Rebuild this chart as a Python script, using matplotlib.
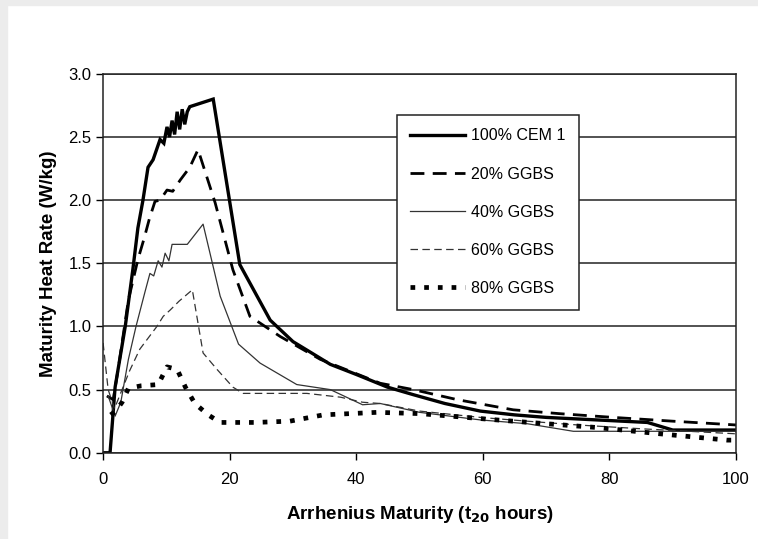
import matplotlib
matplotlib.use("Agg")
import matplotlib.pyplot as plt
from matplotlib.patches import Rectangle

plt.rcParams['font.family'] = ['Liberation Sans', 'DejaVu Sans']

# Arrhenius maturity (t20 hours) vs maturity heat rate (W/kg)
cem_x = [0, 1.1, 1.9, 3.5, 4.7, 5.5, 6.3, 7.1, 7.9, 9.0, 9.6, 10.1, 10.5, 10.9, 11.3,
         11.7, 12.1, 12.5, 12.9, 13.3, 13.7, 17.4, 21.6, 26.4, 30.0, 35.9, 40.0, 44.9,
         49.0, 54.0, 59.6, 65.0, 70.0, 78.0, 86.0, 90.0, 95.0, 100]
cem_y = [0, 0, 0.52, 1.0, 1.45, 1.78, 2.0, 2.26, 2.32, 2.48, 2.45, 2.58, 2.5, 2.63, 2.52,
         2.7, 2.56, 2.72, 2.6, 2.7, 2.74, 2.80, 1.49, 1.05, 0.88, 0.70, 0.62, 0.52,
         0.46, 0.39, 0.33, 0.30, 0.28, 0.26, 0.24, 0.18, 0.18, 0.18]

g20_x = [0.6, 1.6, 2.5, 4.0, 5.5, 6.5, 7.3, 8.2, 9.0, 10.1, 11.0, 12.2, 13.7, 15.0,
         17.7, 20.5, 23.2, 28.0, 34.3, 43.8, 49.0, 56.0, 64.8, 72.0, 80.6, 90.0, 100]
g20_y = [0.45, 0.42, 0.7, 1.21, 1.53, 1.7, 1.85, 1.99, 2.0, 2.08, 2.07, 2.16, 2.26, 2.40,
         1.98, 1.45, 1.08, 0.92, 0.74, 0.55, 0.50, 0.42, 0.34, 0.31, 0.28, 0.25, 0.22]

g40_x = [0.8, 1.9, 2.8, 4.0, 5.2, 6.6, 7.4, 8.0, 8.7, 9.3, 9.8, 10.4, 10.9, 13.3, 15.8,
         18.5, 21.4, 24.8, 30.6, 35.9, 41.0, 43.8, 50.0, 59.6, 67.0, 74.3, 85.0, 100]
g40_y = [0.45, 0.29, 0.4, 0.74, 1.0, 1.27, 1.42, 1.4, 1.52, 1.47, 1.58, 1.52, 1.65, 1.65,
         1.81, 1.24, 0.86, 0.71, 0.54, 0.50, 0.38, 0.39, 0.32, 0.26, 0.23, 0.17, 0.17, 0.17]

g60_x = [0, 0.8, 1.8, 3.0, 4.2, 5.8, 7.0, 8.5, 9.5, 10.6, 12.0, 14.1, 15.8, 18.0, 20.5,
         22.1, 32.2, 37.5, 41.0, 43.8, 50.0, 59.6, 67.0, 75.0, 85.0, 100]
g60_y = [0.87, 0.5, 0.35, 0.5, 0.65, 0.82, 0.9, 1.0, 1.08, 1.13, 1.2, 1.29, 0.79, 0.66,
         0.52, 0.47, 0.47, 0.44, 0.40, 0.39, 0.33, 0.28, 0.25, 0.22, 0.19, 0.15]

g80_x = [1.2, 2.0, 3.0, 4.0, 6.0, 8.7, 10.1, 11.7, 13.0, 14.5, 16.6, 18.5, 24.0, 29.5,
         34.8, 43.3, 50.0, 62.2, 70.0, 78.0, 88.0, 98.6, 100]
g80_y = [0.3, 0.33, 0.4, 0.51, 0.53, 0.54, 0.68, 0.66, 0.52, 0.39, 0.30, 0.24, 0.24, 0.25,
         0.30, 0.32, 0.31, 0.26, 0.23, 0.20, 0.15, 0.10, 0.10]

labels = ['100% CEM 1', '20% GGBS', '40% GGBS', '60% GGBS', '80% GGBS']

fig = plt.figure(figsize=(7.58, 5.39), dpi=100)
# faint screenshot border at top and left
fig.patches.append(Rectangle((0, 0.99), 1, 0.01, transform=fig.transFigure, color='#ececec', zorder=0))
fig.patches.append(Rectangle((0, 0), 0.009, 1, transform=fig.transFigure, color='#ececec', zorder=0))

ax = fig.add_axes([0.136, 0.160, 0.835, 0.703])

ax.plot(cem_x, cem_y, color='black', lw=2.4, solid_joinstyle='miter', label=labels[0])
ax.plot(g20_x, g20_y, color='black', lw=2.0, dashes=(5, 3), label=labels[1])
ax.plot(g40_x, g40_y, color='#333333', lw=0.9, label=labels[2])
ax.plot(g60_x, g60_y, color='#333333', lw=0.9, dashes=(6, 3.5), label=labels[3])
ax.plot(g80_x, g80_y, color='black', lw=3.4, dashes=(1.0, 1.9), label=labels[4])

ax.set_xlim(0, 100)
ax.set_ylim(0, 3.0)
ax.set_xticks([0, 20, 40, 60, 80, 100])
ax.set_yticks([0, 0.5, 1.0, 1.5, 2.0, 2.5, 3.0])
ax.set_yticklabels(['0.0', '0.5', '1.0', '1.5', '2.0', '2.5', '3.0'])
ax.yaxis.grid(True, color='#444444', lw=1.3)
ax.set_axisbelow(True)
ax.tick_params(axis='both', direction='out', length=5, width=1, labelsize=12, colors='black')
ax.tick_params(axis='x', pad=9)
for s in ax.spines.values():
    s.set_linewidth(1.1)
    s.set_color('#222222')

ax.set_ylabel('Maturity Heat Rate (W/kg)', fontsize=13.5, fontweight='bold', labelpad=8)
ax.set_xlabel('Arrhenius Maturity (t$_{\\mathbf{20}}$ hours)', fontsize=13.5, fontweight='bold', labelpad=12)

leg = ax.legend(loc='upper left', bbox_to_anchor=(0.464, 0.892), fontsize=11.5,
                frameon=True, fancybox=False, edgecolor='#222222', framealpha=1,
                handlelength=3.4, labelspacing=1.45, borderpad=0.85, handletextpad=0.4,
                borderaxespad=0)
leg.get_frame().set_linewidth(1.1)

fig.savefig('out.png', dpi=100)
